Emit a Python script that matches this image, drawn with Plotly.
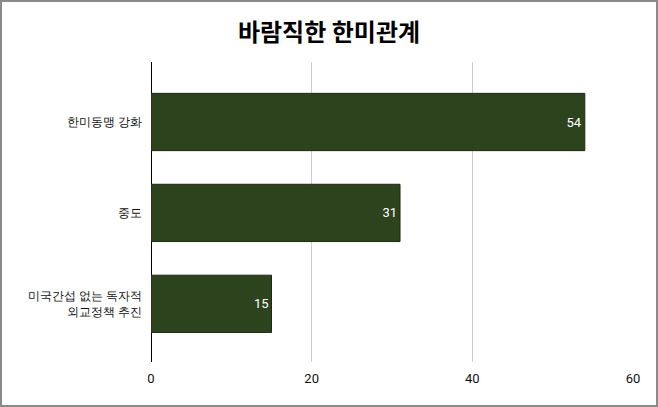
import plotly.graph_objects as go

# 데이터
categories = ["한미동맹 강화", "중도", "미국간섭 없는 독자적<br>외교정책 추진"]
values = [54, 31, 15]
tick_vals = [0, 20, 40, 60]

W, H = 658, 407
m = dict(l=151, r=25, t=62, b=45)

fig = go.Figure(go.Bar(
    x=values, y=categories, orientation="h",
    marker_color="#2c431e", marker_line_color="#1c2a12", marker_line_width=1,
    text=values, textposition="inside", insidetextanchor="end",
    textfont=dict(color="white", size=13, family="Roboto"),
    width=0.63,
))

fig.update_layout(
    width=W, height=H, margin=m,
    paper_bgcolor="white", plot_bgcolor="white",
    title=dict(text="<b>바람직한 한미관계</b>", x=0.5, xanchor="center", y=0.92, yanchor="middle",
               font=dict(family="Noto Sans CJK KR", size=24, color="black")),
    font=dict(family="Roboto", size=12, color="#111"),
    showlegend=False,
)
fig.update_xaxes(range=[0, 60], tickvals=tick_vals, showgrid=True, gridcolor="#cccccc", gridwidth=1,
                 zeroline=True, zerolinecolor="black", zerolinewidth=1, ticklabelstandoff=7,
                 tickfont=dict(size=13, color="#111"), ticks="", showline=False)
fig.update_yaxes(range=[2.64, -0.66], showgrid=False, ticks="", ticklabelstandoff=8,
                 tickfont=dict(size=12, color="#111"))

# 외곽 테두리
pw = W - m["l"] - m["r"]
ph = H - m["t"] - m["b"]
fig.add_shape(type="rect", xref="paper", yref="paper",
              x0=(1 - m["l"]) / pw, x1=1 + (m["r"] - 1) / pw,
              y0=-(m["b"] - 1) / ph, y1=1 + (m["t"] - 1) / ph,
              line=dict(color="#8a8a8a", width=2), fillcolor="rgba(0,0,0,0)")

fig.write_html("out.html", config={"displayModeBar": False},
               post_script="document.body.style.margin='0';")
